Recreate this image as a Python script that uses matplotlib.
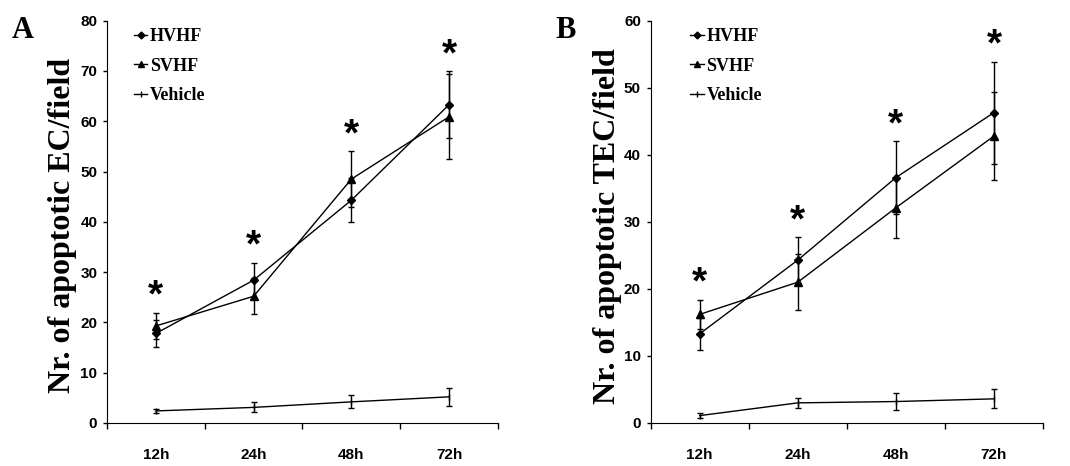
import matplotlib
matplotlib.use("Agg")
import matplotlib.pyplot as plt
from matplotlib.lines import Line2D
import numpy as np

times = ["12h", "24h", "48h", "72h"]

# Panel A: apoptotic EC/field
a_hvhf = [17.8, 28.4, 44.3, 63.3]
a_hvhf_err = [2.6, 3.5, 4.4, 6.7]
a_svhf = [19.3, 25.2, 48.5, 60.9]
a_svhf_err = [2.6, 3.6, 5.6, 8.5]
a_veh = [2.4, 3.1, 4.2, 5.2]
a_veh_err = [0.4, 1.0, 1.3, 1.8]

# Panel B: apoptotic TEC/field
b_hvhf = [13.3, 24.3, 36.6, 46.3]
b_hvhf_err = [2.4, 3.4, 5.4, 7.6]
b_svhf = [16.2, 21.0, 32.1, 42.8]
b_svhf_err = [2.2, 4.2, 4.5, 6.6]
b_veh = [1.1, 3.0, 3.2, 3.6]
b_veh_err = [0.4, 0.75, 1.2, 1.4]

fig = plt.figure(figsize=(10.7, 4.66), dpi=100)

def panel(rect, hv, hve, sv, sve, ve, vee, ymax, ylabel, letter, letter_x,
          leg_x, ylab_x):
    ax = fig.add_axes(rect)
    x = np.arange(len(times)) + 0.5
    kw = dict(color="black", lw=1.0, elinewidth=1.0, capsize=2.5, capthick=1.0)
    ax.errorbar(x, hv, yerr=hve, marker="D", ms=4.5, **kw)
    ax.errorbar(x, sv, yerr=sve, marker="^", ms=6, **kw)
    ax.errorbar(x, ve, yerr=vee, marker="|", ms=5, **kw)
    tops = np.maximum(np.array(hv) + np.array(hve), np.array(sv) + np.array(sve))
    for xi, t in zip(x, tops):
        ax.annotate("*", (xi, t), xytext=(0, -1.5), textcoords="offset points",
                    ha="center", va="bottom", fontsize=28, fontweight="bold",
                    family="Liberation Sans")
    ax.set_xlim(0, 4)
    ax.set_ylim(0, ymax)
    ax.set_yticks(np.arange(0, ymax + 1, 10))
    ax.set_xticks(x)
    ax.set_xticklabels(times)
    ax.set_xticks(np.arange(0, 5), minor=True)
    ax.tick_params(axis="x", which="major", length=0, pad=18)
    ax.tick_params(axis="x", which="minor", length=4, direction="out", width=1)
    ax.tick_params(axis="y", length=3, width=1, pad=4)
    for lab in ax.get_xticklabels() + ax.get_yticklabels():
        lab.set_fontfamily("Liberation Sans")
        lab.set_fontweight("bold")
        lab.set_fontsize(11)
    ax.spines["top"].set_visible(False)
    ax.spines["right"].set_visible(False)
    ax.set_ylabel(ylabel, family="Liberation Serif", fontweight="bold",
                  fontsize=23)
    ax.yaxis.set_label_coords(ylab_x, 0.49)
    handles = [
        Line2D([0], [0], color="black", lw=1, marker="D", ms=3.5),
        Line2D([0], [0], color="black", lw=1, marker="^", ms=5),
        Line2D([0], [0], color="black", lw=1, marker="|", ms=4),
    ]
    ax.legend(handles, ["HVHF", "SVHF", "Vehicle"], loc="upper left",
              bbox_to_anchor=(leg_x, 1.0), frameon=False,
              handlelength=0.75, handletextpad=0.15, labelspacing=0.7,
              borderaxespad=0.0,
              prop={"family": "Liberation Serif", "weight": "bold", "size": 13})
    fig.text(letter_x, 0.965, letter, family="Liberation Serif", fontweight="bold",
             fontsize=22, ha="left", va="top")
    return ax

panel([0.1, 0.0923, 0.3654, 0.8633], a_hvhf, a_hvhf_err, a_svhf, a_svhf_err,
      a_veh, a_veh_err, 80, "Nr. of apoptotic EC/field", "A", 0.011, 0.05, -0.077)
panel([0.6081, 0.0923, 0.3667, 0.8633], b_hvhf, b_hvhf_err, b_svhf, b_svhf_err,
      b_veh, b_veh_err, 60, "Nr. of apoptotic TEC/field", "B", 0.519, 0.082, -0.073)

fig.savefig("out.png", dpi=100)
